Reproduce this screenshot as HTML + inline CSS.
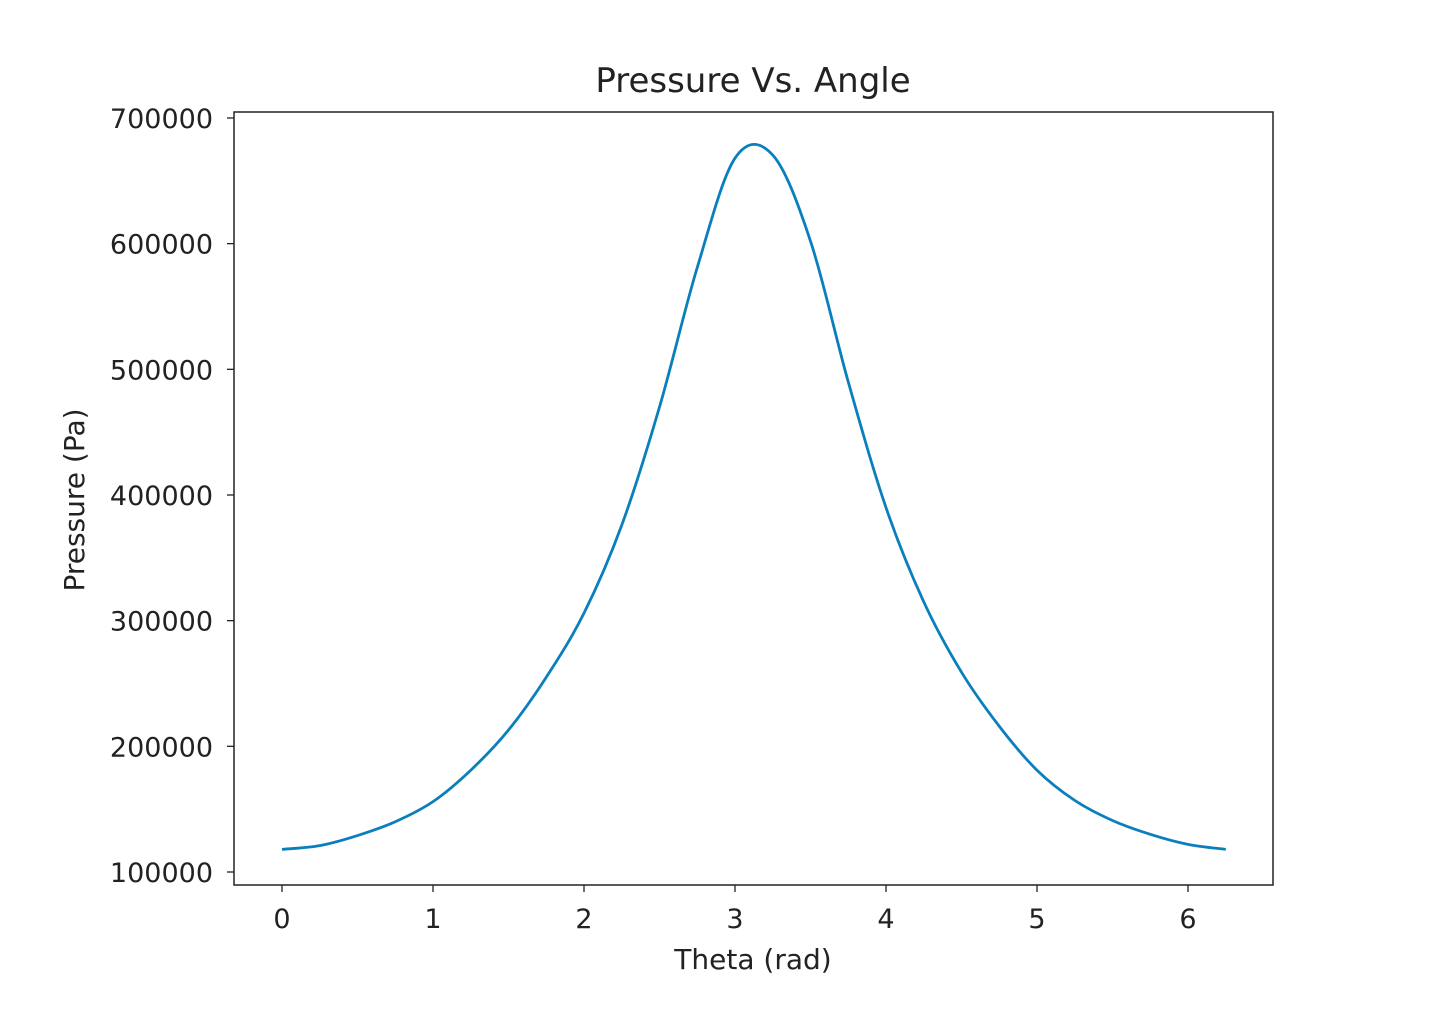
<!DOCTYPE html>
<html><head><meta charset="utf-8"><style>
body{margin:0;background:#fff;}
svg{display:block;font-family:"DejaVu Sans","Liberation Sans",sans-serif;}
</style></head><body>
<svg id="chart" width="1454" height="1018">
<text x="753" y="92" font-size="34" text-anchor="middle" fill="#222">Pressure Vs. Angle</text>
<rect x="234" y="112" width="1039" height="773" fill="none" stroke="#222" stroke-width="1.5"/>
<g id="xticks"></g><g id="yticks"></g>
<text x="753" y="969" font-size="28" text-anchor="middle" fill="#222">Theta (rad)</text>
<text transform="translate(84,500) rotate(-90)" font-size="28" text-anchor="middle" fill="#222">Pressure (Pa)</text>
<path id="curve" fill="none" stroke="#0a7fbd" stroke-width="2.8"/>
</svg>
<script>
const theta=[0,0.25,0.5,0.75,1,1.25,1.5,1.75,2,2.25,2.5,2.75,3,3.25,3.5,3.75,4,4.25,4.5,4.75,5,5.25,5.5,5.75,6,6.25];
const pressure=[118000,121000,129000,140000,156000,181000,213000,255000,306000,376000,470000,581000,668000,670500,602000,490000,390000,315000,259000,216000,181000,157000,141000,130000,122000,118000];
const xTicks=[0,1,2,3,4,5,6];
const yTicks=[100000,200000,300000,400000,500000,600000,700000];
const X=v=>282+v*151;
const Y=v=>872-(v-100000)*125.67/100000;
const NS="http://www.w3.org/2000/svg";
const xg=document.getElementById('xticks'),yg=document.getElementById('yticks');
xTicks.forEach(t=>{
 const l=document.createElementNS(NS,'line');
 l.setAttribute('x1',X(t));l.setAttribute('x2',X(t));l.setAttribute('y1',885);l.setAttribute('y2',892);l.setAttribute('stroke','#222');l.setAttribute('stroke-width','1.3');
 
 
 xg.appendChild(l);
 const s=document.createElementNS(NS,'text');
 s.setAttribute('x',X(t));s.setAttribute('y',928);s.setAttribute('font-size','27');s.setAttribute('text-anchor','middle');s.setAttribute('fill','#222');
 s.textContent=t;
 
 
 xg.appendChild(s);
});
yTicks.forEach(t=>{
 const l=document.createElementNS(NS,'line');
 l.setAttribute('x1',227);l.setAttribute('x2',234);l.setAttribute('y1',Y(t));l.setAttribute('y2',Y(t));l.setAttribute('stroke','#222');l.setAttribute('stroke-width','1.3');
 
 
 yg.appendChild(l);
 const s=document.createElementNS(NS,'text');
 s.setAttribute('x',213);s.setAttribute('y',Y(t)+10);s.setAttribute('font-size','27');s.setAttribute('text-anchor','end');s.setAttribute('fill','#222');
 s.textContent=t;
 
 
 yg.appendChild(s);
});
const pts=theta.map((t,i)=>[X(t),Y(pressure[i])]);
let d='M'+pts[0][0]+','+pts[0][1];
for(let i=0;i<pts.length-1;i++){
 const p0=pts[Math.max(0,i-1)],p1=pts[i],p2=pts[i+1],p3=pts[Math.min(pts.length-1,i+2)];
 const c1=[p1[0]+(p2[0]-p0[0])/6,p1[1]+(p2[1]-p0[1])/6];
 const c2=[p2[0]-(p3[0]-p1[0])/6,p2[1]-(p3[1]-p1[1])/6];
 d+=' C'+c1+' '+c2+' '+p2;
}
document.getElementById('curve').setAttribute('d',d);
</script>
</body></html>
